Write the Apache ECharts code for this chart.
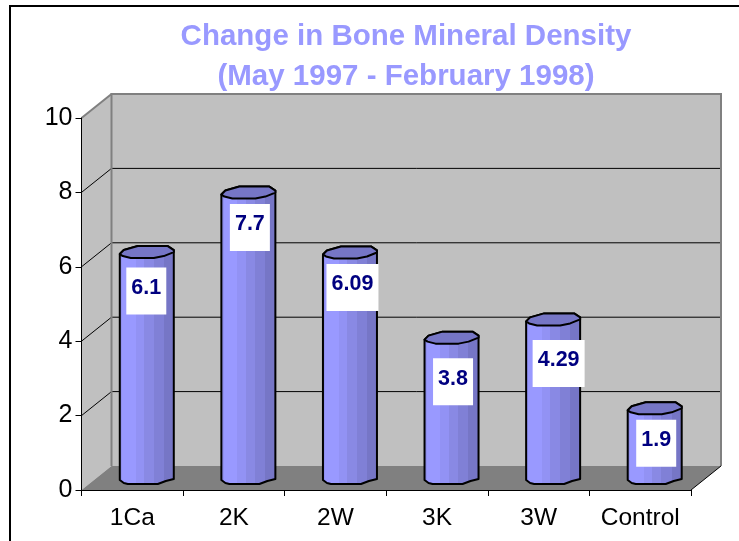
<!DOCTYPE html>
<html>
<head>
<meta charset="utf-8">
<style>
html, body { margin: 0; padding: 0; background: #fff; }
#main { width: 739px; height: 541px; }
</style>
<script src="https://cdn.jsdelivr.net/npm/echarts@6/dist/echarts.min.js"></script>
</head>
<body>
<div id="main"></div>
<script>
var categories = ['1Ca', '2K', '2W', '3K', '3W', 'Control'];
var density = [6.1, 7.7, 6.09, 3.8, 4.29, 1.9];
var yTicks = [2, 4, 6, 8];

// 3d look: how far the back wall sits behind the axes
var DEPTH_X = 30, DEPTH_Y = -24;
// label box nudge, these were moved by hand in the original
var labelShiftX = [-1, 1, 2, 1, 5, 1];
var labelShiftY = [40, 36, 36, 45, 45, 36];

var capTop = [[-27, 3], [-23, -1], [-9, -5], [21, -5], [27, -1]];
var capBottom = [[27, 1], [17, 5], [7, 7], [-16, 7], [-24, 5]];
var baseOutline = [[27, 1], [19, 3], [11, 6], [-19, 6], [-23, 5], [-27, 2]];

var bodyColor = new echarts.graphic.LinearGradient(0, 0, 1, 0, [
    { offset: 0, color: '#9090f0' }, { offset: 0.06, color: '#9090f0' },
    { offset: 0.06, color: '#9999ff' }, { offset: 0.3, color: '#9999ff' },
    { offset: 0.3, color: '#9292f4' }, { offset: 0.45, color: '#9292f4' },
    { offset: 0.45, color: '#8989e4' }, { offset: 0.62, color: '#8989e4' },
    { offset: 0.62, color: '#8080d6' }, { offset: 0.8, color: '#8080d6' },
    { offset: 0.8, color: '#7676c6' }, { offset: 1, color: '#7676c6' }
]);

function shift(list, x, y) {
    return list.map(function (p) { return [p[0] + x, p[1] + y]; });
}

// walls, floor and the gridlines behind the bars
function renderWalls(params, api) {
    var sys = params.coordSys;
    var x0 = sys.x, x1 = sys.x + sys.width;
    var y0 = api.coord([0, 0])[1], y10 = api.coord([0, 10])[1];
    var children = [
        { type: 'polygon', shape: { points: [[x0, y0], [x0 + DEPTH_X, y0 + DEPTH_Y], [x0 + DEPTH_X, y10 + DEPTH_Y], [x0, y10]] },
          style: { fill: '#c0c0c0' } },
        { type: 'rect', shape: { x: x0 + DEPTH_X, y: y10 + DEPTH_Y, width: x1 - x0, height: y0 - y10 },
          style: { fill: '#c0c0c0' } },
        { type: 'polygon', shape: { points: [[x0, y0], [x1, y0], [x1 + DEPTH_X, y0 + DEPTH_Y], [x0 + DEPTH_X, y0 + DEPTH_Y]] },
          style: { fill: '#808080' } }
    ];
    yTicks.forEach(function (t) {
        var y = api.coord([0, t])[1];
        children.push({ type: 'polyline', shape: { points: [[x0, y], [x0 + DEPTH_X, y + DEPTH_Y], [x1 + DEPTH_X, y + DEPTH_Y]] },
            style: { fill: 'none', stroke: '#000', lineWidth: 1 } });
    });
    // wall edges
    children.push({ type: 'polyline', shape: { points: [[x0 + DEPTH_X, y0 + DEPTH_Y], [x0 + DEPTH_X, y10 + DEPTH_Y], [x1 + DEPTH_X, y10 + DEPTH_Y], [x1 + DEPTH_X, y0 + DEPTH_Y]] },
        style: { fill: 'none', stroke: '#808080', lineWidth: 2 } });
    children.push({ type: 'line', shape: { x1: x0, y1: y10, x2: x0 + DEPTH_X, y2: y10 + DEPTH_Y },
        style: { stroke: '#808080', lineWidth: 2 } });
    children.push({ type: 'line', shape: { x1: x1, y1: y0, x2: x1 + DEPTH_X, y2: y0 + DEPTH_Y },
        style: { stroke: '#000', lineWidth: 1 } });
    return { type: 'group', children: children };
}

// one cylinder, stands half way into the floor
function renderBar(params, api) {
    var i = api.value(0), val = api.value(1);
    var top = api.coord([i, val]), base = api.coord([i, 0]);
    var cx = top[0] + DEPTH_X / 2 - 0.5;
    var topY = top[1] + DEPTH_Y / 2, baseY = base[1] + DEPTH_Y / 2;
    var points = shift(capTop, cx, topY).concat(shift(baseOutline, cx, baseY));
    return {
        type: 'group',
        children: [
            { type: 'polygon', shape: { points: points },
              style: { fill: bodyColor, stroke: '#000', lineWidth: 2, lineJoin: 'round' } },
            { type: 'polygon', shape: { points: shift(capTop.concat(capBottom), cx, topY) },
              style: { fill: '#7676c6', stroke: '#000', lineWidth: 2, lineJoin: 'round' } }
        ]
    };
}

function renderLabel(params, api) {
    var i = api.value(0), val = api.value(1);
    var top = api.coord([i, val]);
    var text = String(val);
    var w = text.length > 3 ? 52 : 40, h = 47;
    var cx = top[0] + DEPTH_X / 2 + labelShiftX[i];
    var cy = top[1] + DEPTH_Y / 2 + labelShiftY[i];
    return {
        type: 'group',
        children: [
            { type: 'rect', shape: { x: cx - w / 2, y: cy - h / 2, width: w, height: h }, style: { fill: '#fff' } },
            { type: 'text', style: { x: cx, y: cy - 3, text: text, align: 'center', verticalAlign: 'middle',
                fill: '#000080', font: 'bold 21.5px "Liberation Sans", Arial, sans-serif' } }
        ]
    };
}

var barData = density.map(function (v, i) { return [i, v]; });

var chart = echarts.init(document.getElementById('main'));

var option = {
    animation: false,
    backgroundColor: '#fff',
    title: {
        text: 'Change in Bone Mineral Density\n(May 1997 - February 1998)',
        left: 401,
        top: 12,
        textAlign: 'center',
        textStyle: {
            color: '#9999ff',
            fontFamily: '"Liberation Sans", Arial, sans-serif',
            fontWeight: 'bold',
            fontSize: 29.5,
            lineHeight: 40
        }
    },
    graphic: [{
        type: 'polyline',
        shape: { points: [[10, 541], [10, 6], [739, 6]] },
        style: { fill: 'none', stroke: '#000', lineWidth: 2 }
    }],
    grid: { left: 81.5, top: 118, width: 609.5, height: 372 },
    xAxis: {
        type: 'category',
        data: categories,
        z: 3,
        axisLine: { show: true, lineStyle: { color: '#000', width: 1 } },
        axisTick: { show: true, length: 6, lineStyle: { color: '#000' } },
        axisLabel: { color: '#000', fontSize: 24.5, margin: 16, interval: 0, fontFamily: '"Liberation Sans", Arial, sans-serif' },
        splitLine: { show: false }
    },
    yAxis: {
        type: 'value',
        min: 0,
        max: 10,
        interval: 2,
        z: 3,
        axisLine: { show: true, lineStyle: { color: '#000', width: 1 } },
        axisTick: { show: true, length: 6, lineStyle: { color: '#000' } },
        axisLabel: { color: '#000', fontSize: 25, margin: 9, padding: [7, 0, 0, 0], fontFamily: '"Liberation Sans", Arial, sans-serif' },
        splitLine: { show: false }
    },
    series: [
        { type: 'custom', z: 1, clip: false, silent: true, renderItem: renderWalls, data: [[0, 0]], encode: { x: 0, y: 1 } },
        { type: 'custom', z: 4, clip: false, renderItem: renderBar, data: barData, encode: { x: 0, y: 1 } },
        { type: 'custom', z: 5, clip: false, renderItem: renderLabel, data: barData, encode: { x: 0, y: 1 } }
    ]
};

chart.setOption(option);
</script>
</body>
</html>
